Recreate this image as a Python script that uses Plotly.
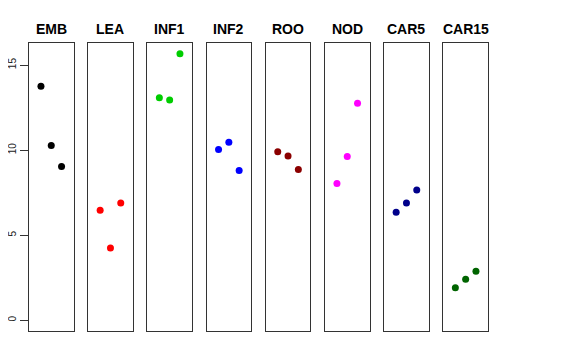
import plotly.graph_objects as go

categories = ["EMB", "LEA", "INF1", "INF2", "ROO", "NOD", "CAR5", "CAR15"]
colors = ["#000000", "#FF0000", "#00CD00", "#0000FF", "#8B0000", "#FF00FF", "#00008B", "#006400"]
positions = [1, 2, 3]
values = [
    [13.76, 10.27, 9.04],
    [6.47, 4.25, 6.90],
    [13.08, 12.94, 15.67],
    [10.04, 10.47, 8.80],
    [9.90, 9.65, 8.86],
    [8.04, 9.63, 12.76],
    [6.35, 6.90, 7.66],
    [1.92, 2.41, 2.88],
]
y_ticks = [0, 5, 10, 15]

W, H = 576, 360
OFF = 8  # page offset of the figure inside the browser
pw = 459
ph = 288
ML = 29 - OFF
MT = 43 - OFF
MR = W - ML - pw
MB = H - MT - ph
step = 59.2
width = 44.5

fig = go.Figure()
layout = dict(
    width=W, height=H,
    margin=dict(l=ML, r=MR, t=MT, b=MB),
    paper_bgcolor="white", plot_bgcolor="white",
    showlegend=False,
    font=dict(family="Liberation Sans, Arial, sans-serif", color="black"),
    annotations=[],
)

ymax = max(max(v) for v in values)
yrange = [0 - 0.04 * ymax, ymax + 0.04 * ymax]

for i, (cat, col, vals) in enumerate(zip(categories, colors, values)):
    xa = "x" if i == 0 else f"x{i+1}"
    ya = "y" if i == 0 else f"y{i+1}"
    fig.add_trace(go.Scatter(
        x=positions, y=vals, mode="markers", xaxis=xa, yaxis=ya,
        marker=dict(color=col, size=7, line=dict(width=0)),
        hoverinfo="skip",
    ))
    d0 = i * step / pw
    d1 = min((i * step + width) / pw, 1.0)
    xkey = "xaxis" if i == 0 else f"xaxis{i+1}"
    ykey = "yaxis" if i == 0 else f"yaxis{i+1}"
    layout[xkey] = dict(
        domain=[d0, d1], range=[-0.16, 4.16], showgrid=False, zeroline=False,
        showticklabels=False, ticks="", showline=True, mirror=True,
        linecolor="#333333", linewidth=1, anchor=ya, fixedrange=True,
    )
    ydict = dict(
        domain=[0, 1], range=yrange, showgrid=False, zeroline=False,
        showline=True, mirror=True, linecolor="#333333", linewidth=1,
        anchor=xa, fixedrange=True,
    )
    if i == 0:
        ydict.update(
            tickvals=y_ticks, ticktext=[str(t) for t in y_ticks],
            ticks="outside", ticklen=8, tickcolor="#333333",
            tickangle=-90, tickfont=dict(size=10, color="#222222"),
            showticklabels=True, automargin=False,
        )
    else:
        ydict.update(showticklabels=False, ticks="")
    layout[ykey] = ydict
    layout["annotations"].append(dict(
        text=f"<b>{cat}</b>", x=(d0 + d1) / 2, xref="paper",
        y=1 + (MT - (29 - OFF)) / ph, yref="paper", xanchor="center", yanchor="middle",
        showarrow=False, font=dict(size=14, color="black"),
    ))

fig.update_layout(**layout)
fig.write_html("out.html")
